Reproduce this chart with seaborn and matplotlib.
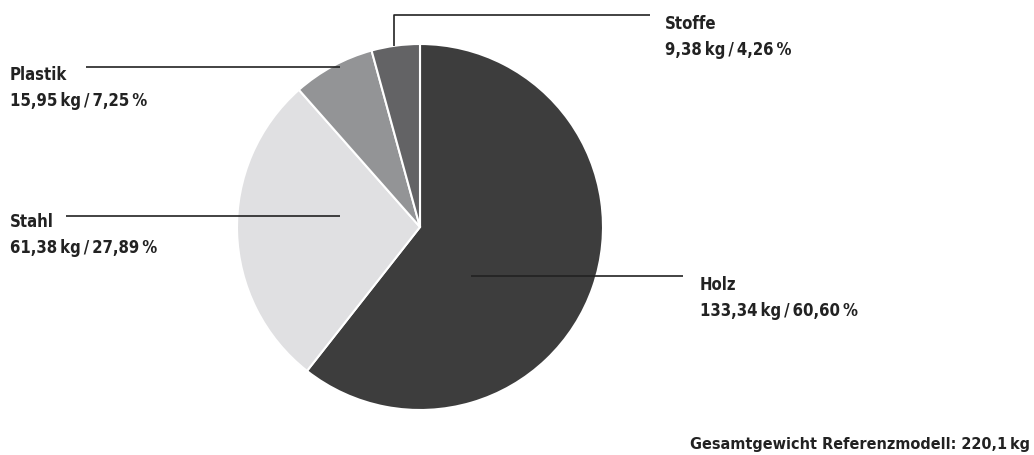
import numpy as np
import matplotlib
matplotlib.use("Agg")
import matplotlib.pyplot as plt
import seaborn as sns

# Daten
materials = ['Holz', 'Stahl', 'Plastik', 'Stoffe']
weights_kg = [133.34, 61.38, 15.95, 9.38]
percents = [60.60, 27.89, 7.25, 4.26]
colors = ['#3d3d3d', '#e0e0e2', '#939496', '#636365']
total_label = 'Gesamtgewicht Referenzmodell: 220,1\u2009kg'

sns.set_theme(style='white')
plt.rcParams['font.family'] = ['Liberation Sans Narrow', 'DejaVu Sans']

W, H = 1034, 455
fig = plt.figure(figsize=(W / 100, H / 100), dpi=100)
ax = fig.add_axes([0, 0, 1, 1])

# Kreisdiagramm (y in Pixeln von oben -> umrechnen)
cx, cy, r = 420, H - 227, 183
ax.pie(weights_kg, colors=colors, startangle=90, counterclock=False,
       center=(cx, cy), radius=r, frame=True,
       wedgeprops=dict(edgecolor='white', linewidth=1.5))
ax.set_xlim(0, W)
ax.set_ylim(0, H)
ax.set_aspect('equal')
ax.axis('off')


def fmt(v):
    return f'{v:.2f}'.replace('.', ',')


# Beschriftungen: (Linie in Pixeln, Textposition)
leaders = {
    'Holz': ([471, 683], [276, 276], 700, 285),
    'Stahl': ([66, 340], [216, 216], 10, 222),
    'Plastik': ([86, 340], [67, 67], 10, 75),
    'Stoffe': ([394, 394, 650], [46, 15, 15], 665, 24),
}
txt = dict(color='#222222', fontsize=12, fontweight='bold',
           fontstretch='condensed', va='center', ha='left')
for name, kg, pct in zip(materials, weights_kg, percents):
    xs, ys, tx, ty = leaders[name]
    ax.plot(xs, [H - y for y in ys], color='#222222', lw=1.2,
            solid_capstyle='butt')
    ax.text(tx, H - ty, name, **txt)
    ax.text(tx, H - ty - 26, f'{fmt(kg)}\u2009kg\u2009/\u2009{fmt(pct)}\u2009%', **txt)

ax.text(1030, H - 444, total_label, color='#222222', fontsize=11.6,
        fontweight='bold', fontstretch='condensed', va='center', ha='right')

fig.savefig('out.png', dpi=100, facecolor='white')
